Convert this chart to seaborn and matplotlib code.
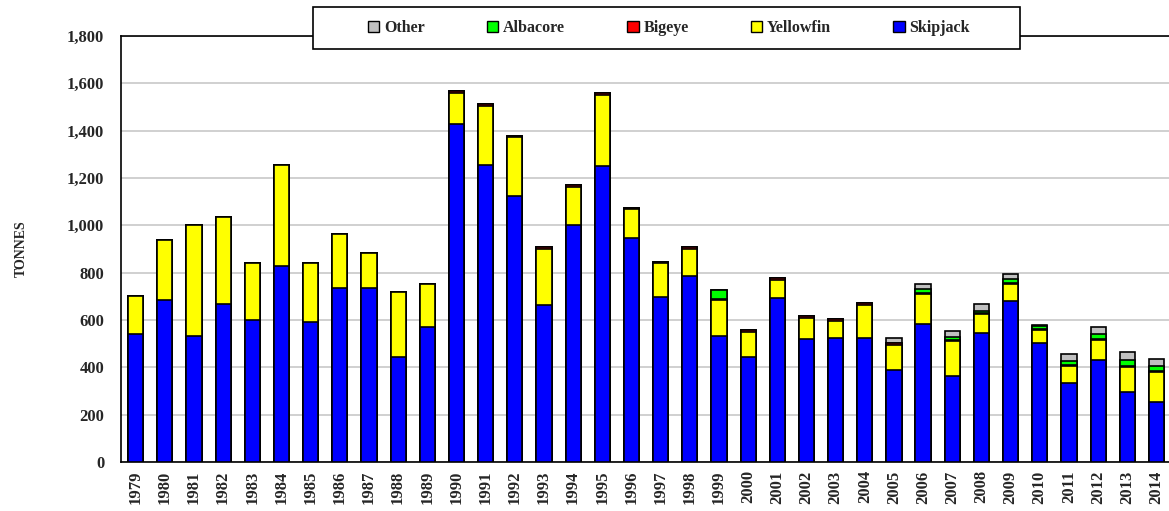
import numpy as np
import pandas as pd
import matplotlib
matplotlib.use("Agg")
import matplotlib.pyplot as plt
from matplotlib.patches import Patch, Rectangle
from matplotlib.ticker import FuncFormatter
import seaborn as sns

# catch by species, tonnes
years = [str(y) for y in range(1979, 2015)]
skipjack = [539, 686, 532, 668, 599, 828, 593, 735, 735, 445, 572, 1427, 1257, 1123, 664, 1002, 1251, 948,
            699, 785, 531, 443, 693, 518, 524, 524, 389, 585, 362, 545, 679, 503, 335, 430, 294, 252]
yellowfin = [162, 251, 471, 369, 243, 426, 249, 228, 147, 275, 182, 131, 249, 249, 235, 159, 301, 120,
             141, 114, 153, 106, 77, 92, 73, 138, 105, 126, 148, 79, 73, 53, 72, 85, 106, 127]
bigeye = [0, 0, 0, 0, 0, 0, 0, 0, 0, 0, 0, 8, 7, 7, 9, 8, 9, 7,
          7, 9, 3, 8, 7, 8, 8, 8, 8, 4, 7, 6, 4, 7, 4, 5, 4, 4]
albacore = [0, 0, 0, 0, 0, 0, 0, 0, 0, 0, 0, 0, 0, 0, 0, 0, 0, 0,
            0, 0, 38, 0, 0, 0, 0, 0, 0, 16, 13, 8, 16, 10, 17, 22, 26, 23]
other = [0, 0, 0, 0, 0, 0, 0, 0, 0, 0, 0, 0, 0, 0, 0, 0, 0, 0,
         0, 0, 0, 0, 0, 0, 0, 0, 20, 23, 22, 28, 22, 6, 30, 30, 33, 31]

species = ["Skipjack", "Yellowfin", "Bigeye", "Albacore", "Other"]
colores = {"Skipjack": "#0000FF", "Yellowfin": "#FFFF00", "Bigeye": "#FF0000",
           "Albacore": "#00FF00", "Other": "#C0C0C0"}

datos = pd.DataFrame({"Year": years, "Skipjack": skipjack, "Yellowfin": yellowfin,
                      "Bigeye": bigeye, "Albacore": albacore, "Other": other})
acum = datos[species].cumsum(axis=1)

sns.set_style("white")
plt.rcParams['font.family'] = ['Liberation Serif', 'DejaVu Serif']
plt.rcParams['font.weight'] = 'bold'

W, H = 1169, 511
fig = plt.figure(figsize=(W / 100, H / 100), dpi=100)
ax = fig.add_axes([121 / W, 49 / H, 1050 / W, 426 / H])

# stacked bars: draw cumulative totals from the top layer down
for sp in species[::-1]:
    sns.barplot(x=datos["Year"], y=acum[sp], color=colores[sp], saturation=1,
                edgecolor="black", linewidth=1.2, width=0.52, ax=ax, zorder=3)

ax.set_ylim(0, 1800)
ax.set_yticks(range(0, 1801, 200))
ax.yaxis.set_major_formatter(FuncFormatter(lambda v, p: f"{int(v):,}"))
ax.set_xlim(-0.5, 35.5)
ax.grid(axis="y", color="#C8C8C8", linewidth=1.2, zorder=0)
ax.set_axisbelow(True)
for s in ["left", "bottom", "top"]:
    ax.spines[s].set_color("black")
    ax.spines[s].set_linewidth(1.2)
ax.spines["right"].set_visible(False)
ax.tick_params(axis="both", length=0, labelsize=12)
ax.tick_params(axis="y", pad=12)
ax.tick_params(axis="x", pad=6)
ax.set_xticks(range(len(years)))
ax.set_xticklabels(years, rotation=90, fontweight="bold")
for t in ax.get_yticklabels():
    t.set_fontweight("bold")
ax.set_xlabel("")
ax.set_ylabel("TONNES", fontsize=10, fontweight="bold", labelpad=28)

# legend box on top of the plot frame
caja = Rectangle((313 / W, 1 - 49 / H), (1020 - 313) / W, 42 / H, transform=fig.transFigure,
                 facecolor="white", edgecolor="black", linewidth=1.2, zorder=5)
fig.patches.append(caja)

orden = ["Other", "Albacore", "Bigeye", "Yellowfin", "Skipjack"]
handles = [Patch(facecolor=colores[s], edgecolor="black", linewidth=1) for s in orden]
leg = fig.legend(handles, orden, loc="center", bbox_to_anchor=(669 / W, 1 - 28 / H), ncol=5,
                 frameon=False, fontsize=11.5,
                 handlelength=0.7, handleheight=0.7, handletextpad=0.3, columnspacing=3.9)
leg.set_zorder(6)
for t in leg.get_texts():
    t.set_fontweight("bold")

fig.savefig("out.png", dpi=100)
